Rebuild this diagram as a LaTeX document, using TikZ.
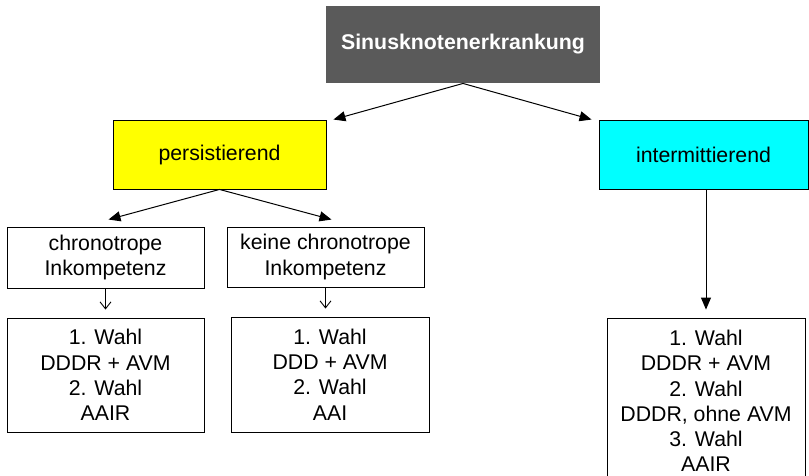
\documentclass[tikz,border=0pt]{standalone}
\usepackage{fontspec}
\setmainfont{Liberation Sans}
\usetikzlibrary{arrows.meta,calc}
\definecolor{dunkelgrau}{HTML}{5A5A5A}
\definecolor{gelb}{HTML}{FFFF00}
\definecolor{tuerkis}{HTML}{00FFFF}
\tikzset{
  kasten/.style={draw=black,line width=0.9pt,inner sep=0pt,align=center,
    font=\fontsize{21.3}{25.3}\selectfont},
  pfeil/.style={line width=1pt,-{Triangle[length=12pt,width=10pt]}},
  offenpfeil/.style={line width=0.9pt,-{Straight Barb[length=7pt,width=11pt]}}
}
\begin{document}
\begin{tikzpicture}[x=1pt,y=-1pt]
\useasboundingbox (0,0) rectangle (809,476);
\node[kasten,draw=none,fill=dunkelgrau,text=white,minimum width=274pt,minimum height=77pt,font=\fontsize{21.3}{25.3}\selectfont\bfseries] (sinus) at (463,44.5) {Sinusknotenerkrankung};
\node[kasten,fill=gelb,minimum width=213pt,minimum height=69pt] (pers) at (219.5,154.5) {persistierend};
\node[kasten,fill=tuerkis,minimum width=209pt,minimum height=69pt] (inter) at (703.5,154.5) {intermittierend};
\node[kasten,minimum width=197pt,minimum height=61pt] (chrono) at (105.5,257.5) {chronotrope\\Inkompetenz};
\node[kasten,minimum width=197pt,minimum height=60pt] (keine) at (325.5,257) {keine chronotrope\\Inkompetenz};
\node[kasten,minimum width=197pt,minimum height=114pt] (wahlA) at (105.5,375) {1. Wahl\\DDDR + AVM\\2. Wahl\\AAIR};
\node[kasten,minimum width=198pt,minimum height=115pt] (wahlB) at (330,374.5) {1. Wahl\\DDD + AVM\\2. Wahl\\AAI};
\node[kasten,minimum width=198pt,minimum height=166pt] (wahlC) at (706,401) {1. Wahl\\DDDR + AVM\\2. Wahl\\DDDR, ohne AVM\\3. Wahl\\AAIR};

\draw[pfeil] (sinus.south) -- ([xshift=7pt]pers.north east);
\draw[pfeil] (sinus.south) -- ([xshift=-7pt]inter.north west);
\draw[pfeil] (pers.south) -- ([shift={(3pt,7pt)}]chrono.north);
\draw[pfeil] (pers.south) -- ([shift={(6pt,7pt)}]keine.north);
\draw[offenpfeil] (chrono.south) -- ($(chrono.south |- wahlA.north)+(0,-8)$);
\draw[offenpfeil] (keine.south) -- ($(keine.south |- wahlB.north)+(0,-8)$);
\draw[pfeil] (inter.south -| wahlC.north) -- ($(wahlC.north)+(0,-8)$);
\end{tikzpicture}
\end{document}
